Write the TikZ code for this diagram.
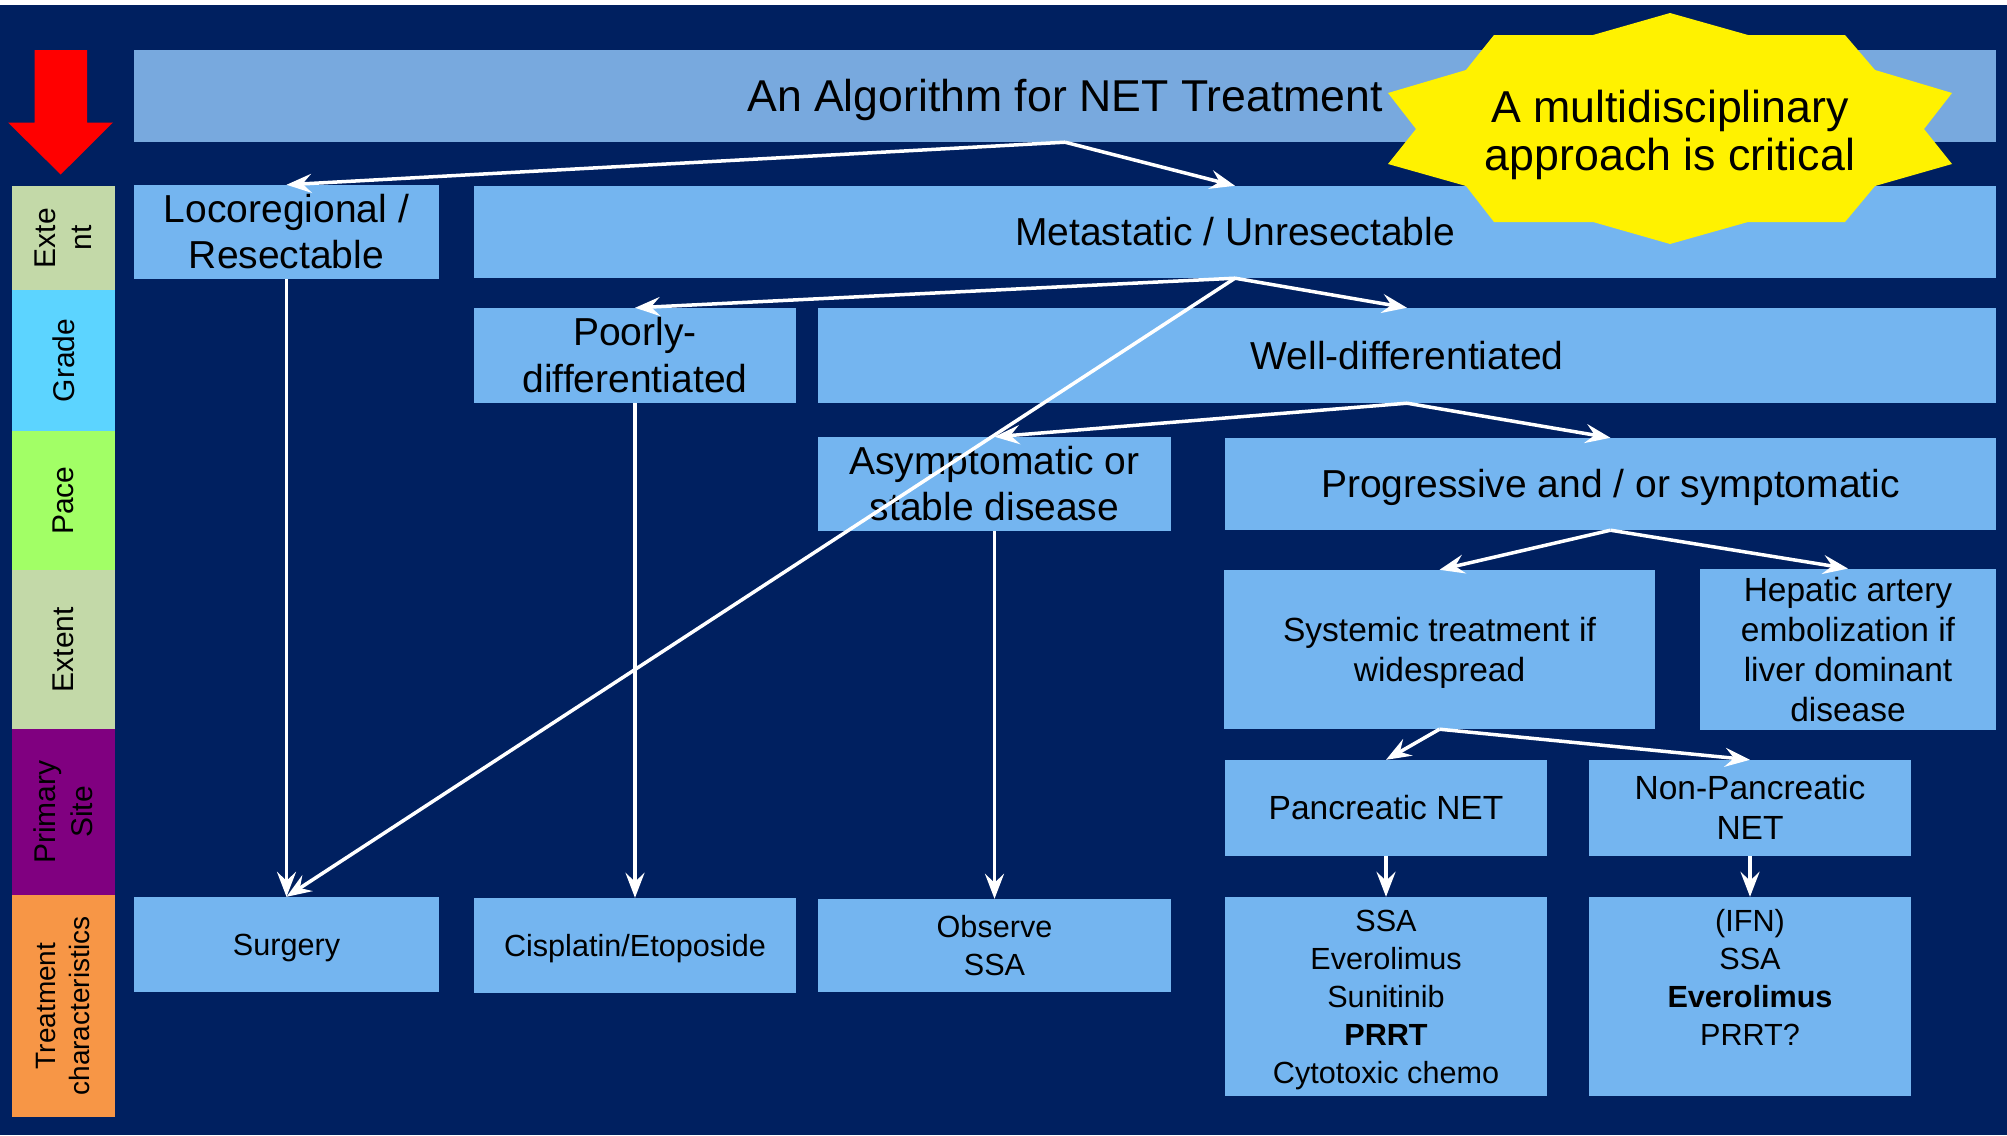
\documentclass[tikz,border=0pt]{standalone}
\usepackage{fontspec}
\setmainfont{Liberation Sans}
\usepackage{xcolor}
\usepackage{tikz}
\usetikzlibrary{arrows.meta}

\definecolor{navybg}{RGB}{0,32,96}
\definecolor{titleblue}{RGB}{120,169,222}
\definecolor{boxblue}{RGB}{116,181,240}
\definecolor{extentgreen}{RGB}{195,217,168}
\definecolor{gradecyan}{RGB}{92,212,255}
\definecolor{pacelime}{RGB}{162,255,102}
\definecolor{sitepurple}{RGB}{128,0,128}
\definecolor{treatorange}{RGB}{247,150,70}

% line box of the slide font (ascent / descent)
\newcommand{\linestrut}{\rule[-0.212em]{0pt}{1.117em}}

\begin{document}
\begin{tikzpicture}[
  x=1pt, y=-1pt,
  box/.style={rectangle, fill=boxblue, inner sep=2pt, align=center, text=black,
    execute at end node=\linestrut},
  txtbig/.style={font=\fontsize{39}{46.5}\selectfont},
  txtmid/.style={font=\fontsize{33.5}{40}\selectfont},
  txtsmall/.style={font=\fontsize{30.6}{38}\selectfont},
  cell/.style={rectangle, rotate=90, minimum height=103pt, inner sep=0pt, align=center, text=black, font=\fontsize{30}{36.5}\selectfont},
  flow/.style={draw=white, line width=3.5pt, -{Stealth[length=25pt, width=19pt, inset=9pt]}}
]
\useasboundingbox (0,0) rectangle (2007,1135);

% Background
\fill[white] (0,0) rectangle (2007,1135);
\fill[navybg] (0,5) rectangle (2007,1135);

% Red arrow (reading direction)
\fill[red] (34.5,50) -- (87,50) -- (87,122.5) -- (113,122.5) -- (60.7,174.5) -- (8,122.5) -- (34.5,122.5) -- cycle;

% Side bar
\node[cell, fill=extentgreen, minimum width=104pt] (c_extent) at (63.5,238) {Exte\\nt};
\node[cell, fill=gradecyan, minimum width=141pt] (c_grade) at (63.5,360.5) {Grade};
\node[cell, fill=pacelime, minimum width=139pt] (c_pace) at (63.5,500.5) {Pace};
\node[cell, fill=extentgreen, minimum width=159pt] (c_extent2) at (63.5,649.5) {Extent};
\node[cell, fill=sitepurple, minimum width=166pt] (c_site) at (63.5,812) {Primary\\Site};
\node[cell, fill=treatorange, minimum width=222pt, font=\fontsize{28}{34}\selectfont] (c_treat) at (63.5,1006) {Treatment\\characteristics};

% Title
\node[box, fill=titleblue, minimum width=1862pt, minimum height=92pt, font=\fontsize{44.6}{48}\selectfont] (title) at (1065,96) {An Algorithm for NET Treatment};

% Extent
\node[box, txtbig, minimum width=305pt, minimum height=92pt] (loco) at (286.5,232) {\linestrut Locoregional /\\Resectable};
\node[box, txtbig, minimum width=1522pt, minimum height=92pt] (meta) at (1235,232) {Metastatic / Unresectable};

% Grade
\node[box, txtbig, minimum width=322pt, minimum height=95pt] (poorly) at (635,355.5) {\linestrut Poorly-\\differentiated};
\node[box, txtbig, minimum width=1178pt, minimum height=95pt] (well) at (1407,355.5) {Well-differentiated};

% Pace
\node[box, txtbig, minimum width=353pt, minimum height=92pt] (asympt) at (994.5,484) {\linestrut Asymptomatic or\\stable disease};
\node[box, txtbig, minimum width=771pt, minimum height=92pt] (progr) at (1610.5,484) {Progressive and / or symptomatic};

% Extent (spread)
\node[box, txtmid, minimum width=431pt, minimum height=159pt] (system) at (1439.5,649.5) {\linestrut Systemic treatment if\\widespread};
\node[box, txtmid, minimum width=296pt, minimum height=159pt] (hepatic) at (1848,649.5) {\linestrut Hepatic artery\\embolization if\\liver dominant\\disease};

% Primary site
\node[box, txtmid, minimum width=322pt, minimum height=96pt] (pnet) at (1386,808) {Pancreatic NET};
\node[box, txtmid, minimum width=322pt, minimum height=96pt] (nonpnet) at (1750,808) {\linestrut Non-Pancreatic\\NET};

% Treatment
\node[box, txtsmall, minimum width=305pt, minimum height=95pt] (surgery) at (286.5,944.5) {Surgery};
\node[box, txtsmall, minimum width=322pt, minimum height=95pt] (cispl) at (635,945.5) {Cisplatin/Etoposide};
\node[box, txtsmall, minimum width=353pt, minimum height=93pt] (observe) at (994.5,945.5) {\linestrut Observe\\SSA};
\node[box, txtsmall, minimum width=322pt, minimum height=199pt] (pnettx) at (1386,996.5) {\linestrut SSA\\Everolimus\\Sunitinib\\\textbf{PRRT}\\Cytotoxic chemo};
\node[box, txtsmall, minimum width=322pt, minimum height=199pt] (nonpnettx) at (1750,996.5) {\linestrut (IFN)\\SSA\\\textbf{Everolimus}\\PRRT?\\\mbox{}};

% Decision arrows
\draw[flow] (title.south) -- (loco.north);
\draw[flow] (title.south) -- (meta.north);
\draw[flow] (meta.south) -- (poorly.north);
\draw[flow] (meta.south) -- (well.north);
\draw[flow] (meta.south) -- (surgery.north);
\draw[flow] (well.south) -- (asympt.north);
\draw[flow] (well.south) -- (progr.north);
\draw[flow] (progr.south) -- (system.north);
\draw[flow] (progr.south) -- (hepatic.north);
\draw[flow] (system.south) -- (pnet.north);
\draw[flow] (system.south) -- (nonpnet.north);

% Down to treatment
\draw[flow] (loco.south) -- (surgery.north);
\draw[flow] (poorly.south) -- (cispl.north);
\draw[flow] (asympt.south) -- (observe.north);
\draw[flow] (pnet.south) -- (pnettx.north);
\draw[flow] (nonpnet.south) -- (nonpnettx.north);

% Callout
\fill[yellow] (1670,13) -- (1748,35) -- (1845,35) -- (1875,70) -- (1952,93) -- (1924,129) -- (1952,164) -- (1875,186) -- (1845,222) -- (1748,222) -- (1670,244) -- (1593,222) -- (1494,222) -- (1466,186) -- (1388,164) -- (1416,129) -- (1388,93) -- (1466,70) -- (1494,35) -- (1593,35) -- cycle;
\node[align=center, font=\fontsize{44.7}{47.5}\selectfont] (motto) at (1670,135) {A multidisciplinary\\approach is critical};

\end{tikzpicture}
\end{document}
